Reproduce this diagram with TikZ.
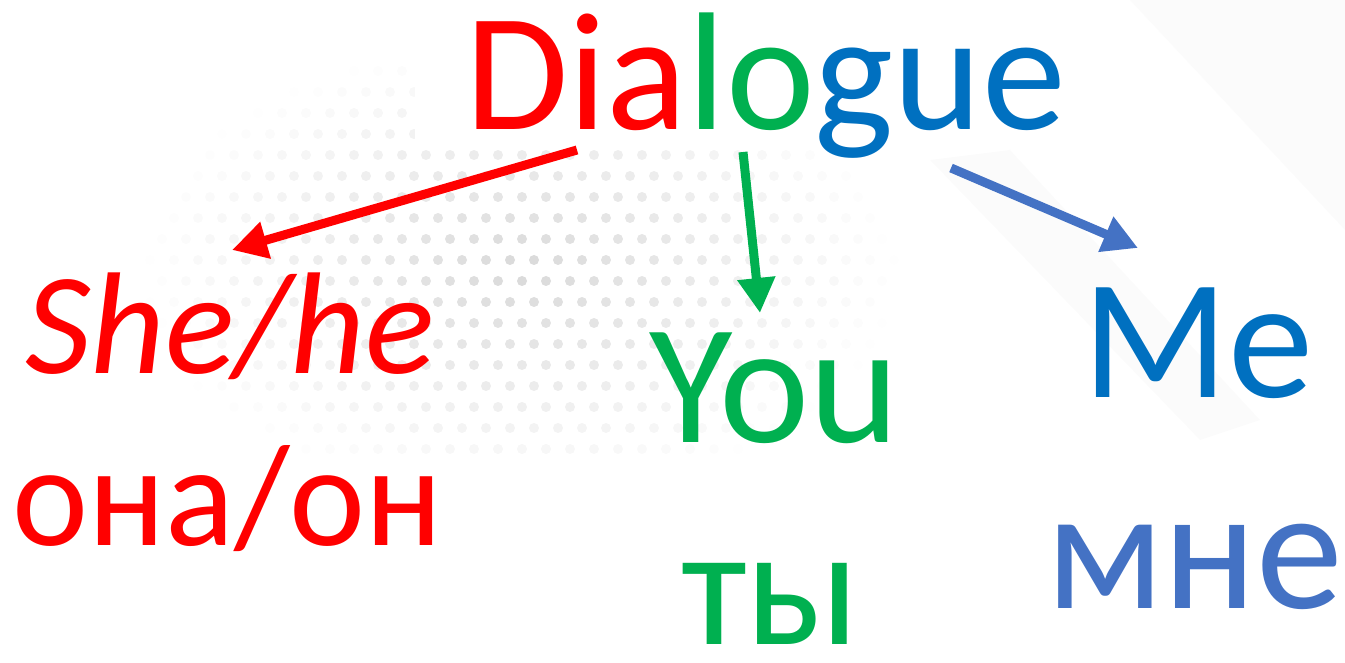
\documentclass[tikz,border=0pt]{standalone}
\usepackage{fontspec}
\setmainfont{Carlito}
\usetikzlibrary{arrows.meta, positioning}
\definecolor{dlgred}{HTML}{FF0000}
\definecolor{dlggreen}{HTML}{00B050}
\definecolor{dlgblue}{HTML}{0070C0}
\definecolor{dlgsoft}{HTML}{4472C4}

\begin{document}
\begin{tikzpicture}[x=1pt, y=-1pt,
  word/.style={anchor=base west, inner sep=0pt, text depth=0pt},
  pointer/.style={line width=9pt, -{Triangle[length=35pt,width=36pt]}}]
\useasboundingbox (0,0) rectangle (1345,663);
% faint dotted background
\foreach \i in {0,...,31} {
  \foreach \j in {0,...,21} {
    \pgfmathsetmacro{\px}{150+24*\i+12*mod(\j,2)}
    \pgfmathsetmacro{\py}{8+21*\j}
    \pgfmathsetmacro{\op}{max(0,1-sqrt(((\px-520)/380)^2+((\py-270)/230)^2))*0.75}
    \fill [gray!40, opacity=\op] (\px,\py) circle (5);
  }
}
\fill [white] (415,0) rectangle (1345,150);
\fill [gray!5, opacity=0.6] (1130,0) -- (1345,0) -- (1345,230) -- cycle;
\fill [gray!5, opacity=0.6] (930,160) -- (1010,150) -- (1260,420) -- (1200,440) -- cycle;
% title
\node [word] (dialogue) at (465,130) {\fontsize{168}{200}\selectfont
  \textcolor{dlgred}{Dia}\textcolor{dlggreen}{lo}\textcolor{dlgblue}{gue}};
% left branch
\node [word, text=dlgred] (she) at (25,373) {\fontsize{145}{172}\selectfont\itshape She/he};
\node [word, text=dlgred] (ona) at (12,545) {\fontsize{144}{172}\selectfont она/он};
% middle branch
\node [word, text=dlggreen] (you) at (649,442) {\fontsize{171}{205}\selectfont You};
\node [word, text=dlggreen] (ty) at (681,644) {\fontsize{170}{204}\selectfont ты};
% right branch
\node [word, text=dlgblue] (me) at (1082,397) {\fontsize{171}{205}\selectfont Me};
\node [word, text=dlgsoft] (mne) at (1046,608) {\fontsize{174}{208}\selectfont мне};
% arrows
\coordinate (redtail) at (577,150);
\coordinate (redtip) at (232,250);
\coordinate (greentail) at (743,152);
\coordinate (greentip) at (760,313);
\coordinate (bluetail) at (951,168);
\coordinate (bluetip) at (1138,248);
\draw [pointer, dlgred] (redtail) -- (redtip);
\draw [pointer, dlggreen] (greentail) -- (greentip);
\draw [pointer, dlgsoft] (bluetail) -- (bluetip);
\end{tikzpicture}
\end{document}
